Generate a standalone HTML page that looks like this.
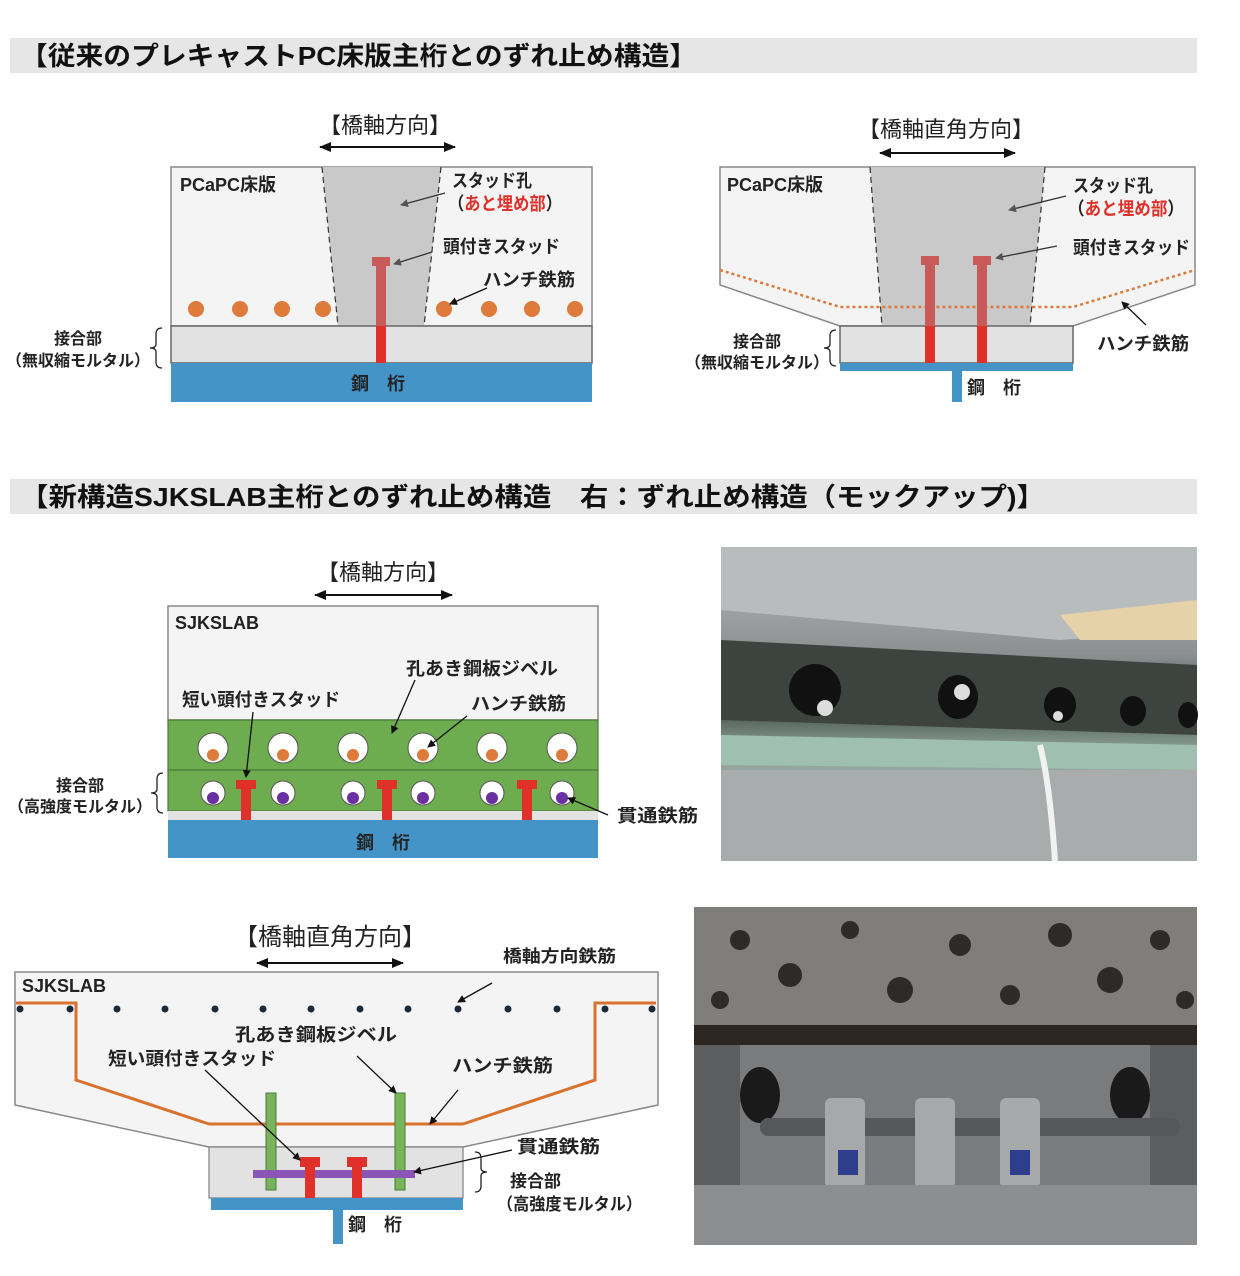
<!DOCTYPE html>
<html><head><meta charset="utf-8"><style>
body{margin:0;background:#fff;}
svg{display:block;font-family:"Liberation Sans","Noto Sans CJK JP",sans-serif;}
.b{font-weight:bold;fill:#222;font-size:18px}
</style></head><body>
<svg width="1240" height="1276" viewBox="0 0 1240 1276" xmlns="http://www.w3.org/2000/svg">
<defs>
<marker id="ah" markerWidth="8" markerHeight="8" refX="7" refY="4" orient="auto" markerUnits="userSpaceOnUse"><path d="M0,0 L8,4 L0,8z" fill="#111"/></marker>
<marker id="ag" markerWidth="8" markerHeight="8" refX="7" refY="4" orient="auto" markerUnits="userSpaceOnUse"><path d="M0,0 L8,4 L0,8z" fill="#555"/></marker>
<marker id="dA" markerWidth="12" markerHeight="10" refX="11" refY="5" orient="auto-start-reverse" markerUnits="userSpaceOnUse"><path d="M0,0 L12,5 L0,10z" fill="#111"/></marker>
<linearGradient id="p1" x1="0" y1="0" x2="0" y2="1"><stop offset="0" stop-color="#b8bcbd"/><stop offset="0.35" stop-color="#8a8e8f"/><stop offset="0.5" stop-color="#3c4a44"/><stop offset="0.65" stop-color="#8fa39a"/><stop offset="1" stop-color="#b4b6b5"/></linearGradient>
<linearGradient id="p2" x1="0" y1="0" x2="0" y2="1"><stop offset="0" stop-color="#7d7f80"/><stop offset="0.3" stop-color="#6e7072"/><stop offset="0.35" stop-color="#2a2522"/><stop offset="0.6" stop-color="#5a5a5c"/><stop offset="1" stop-color="#9c9ea0"/></linearGradient>
</defs>

<!-- headers -->
<rect x="10" y="38" width="1187" height="35" fill="#e6e6e6"/>
<text x="20" y="65" font-size="26" font-weight="bold" fill="#111" textLength="677" lengthAdjust="spacingAndGlyphs">【従来のプレキャストPC床版主桁とのずれ止め構造】</text>
<rect x="10" y="479" width="1187" height="35" fill="#e6e6e6"/>
<text x="20" y="506" font-size="26" font-weight="bold" fill="#111" textLength="1025" lengthAdjust="spacingAndGlyphs">【新構造SJKSLAB主桁とのずれ止め構造　右：ずれ止め構造（モックアップ)】</text>

<!-- top-left -->
<text x="385" y="133" font-size="22" text-anchor="middle" fill="#222">【橋軸方向】</text>
<line x1="320" y1="147" x2="455" y2="147" stroke="#111" stroke-width="2" marker-start="url(#dA)" marker-end="url(#dA)"/>
<rect x="171" y="167" width="421" height="159" fill="#f4f4f4" stroke="#888" stroke-width="1.5"/>
<polygon points="322,167 441,167 424,326 338,326" fill="#c9c9c9"/>
<line x1="322" y1="167" x2="338" y2="326" stroke="#333" stroke-dasharray="6,4" stroke-width="1.2"/>
<line x1="441" y1="167" x2="424" y2="326" stroke="#333" stroke-dasharray="6,4" stroke-width="1.2"/>
<rect x="171" y="326" width="421" height="37" fill="#e2e2e2" stroke="#666" stroke-width="1.5"/>
<rect x="171" y="363" width="421" height="39" fill="#4594c8"/>
<rect x="372" y="257" width="18" height="9" fill="#c85a5a"/>
<rect x="376" y="266" width="10" height="60" fill="#c85a5a"/>
<rect x="376" y="326" width="10" height="37" fill="#e0302a"/>
<g fill="#de7a3a"><circle cx="196" cy="309" r="8"/><circle cx="240" cy="309" r="8"/><circle cx="282" cy="309" r="8"/><circle cx="323" cy="309" r="8"/><circle cx="444" cy="309" r="8"/><circle cx="489" cy="309" r="8"/><circle cx="532" cy="309" r="8"/><circle cx="575" cy="309" r="8"/></g>
<text x="180" y="191" class="b">PCaPC床版</text>
<text x="452" y="187" class="b" textLength="80" lengthAdjust="spacingAndGlyphs">スタッド孔</text>
<text x="448" y="210" class="b" textLength="114" lengthAdjust="spacingAndGlyphs">（<tspan fill="#e0302a">あと埋め部</tspan>）</text>
<text x="443" y="253" class="b" textLength="117" lengthAdjust="spacingAndGlyphs">頭付きスタッド</text>
<text x="483" y="286" class="b" textLength="92" lengthAdjust="spacingAndGlyphs">ハンチ鉄筋</text>
<line x1="445" y1="193" x2="401" y2="205" stroke="#333" stroke-width="1.3" marker-end="url(#ag)"/>
<line x1="432" y1="252" x2="394" y2="264" stroke="#333" stroke-width="1.3" marker-end="url(#ag)"/>
<line x1="487" y1="288" x2="450" y2="304" stroke="#111" stroke-width="1.3" marker-end="url(#ah)"/>
<text x="78" y="344" font-size="16" font-weight="bold" text-anchor="middle" fill="#222">接合部</text>
<text x="78" y="366" font-size="16" font-weight="bold" text-anchor="middle" fill="#222">（無収縮モルタル）</text>
<path d="M162,328 q-6,0 -6,6 v10 q0,4 -6,4 q6,0 6,4 v10 q0,6 6,6" fill="none" stroke="#222" stroke-width="1.3"/>
<text x="378" y="390" class="b" text-anchor="middle">鋼　桁</text>

<!-- top-right -->
<text x="946" y="137" font-size="22" text-anchor="middle" fill="#222">【橋軸直角方向】</text>
<line x1="880" y1="153" x2="1015" y2="153" stroke="#111" stroke-width="2" marker-start="url(#dA)" marker-end="url(#dA)"/>
<polygon points="720,167 1195,167 1195,285 1073,326 840,326 720,285" fill="#f4f4f4" stroke="#888" stroke-width="1.5"/>
<polygon points="870,167 1045,167 1030,326 882,326" fill="#c9c9c9"/>
<line x1="870" y1="167" x2="882" y2="326" stroke="#333" stroke-dasharray="6,4" stroke-width="1.2"/>
<line x1="1045" y1="167" x2="1030" y2="326" stroke="#333" stroke-dasharray="6,4" stroke-width="1.2"/>
<polyline points="720,270 840,307 1073,307 1195,270" fill="none" stroke="#de7a3a" stroke-width="2.5" stroke-dasharray="3,3"/>
<rect x="840" y="326" width="233" height="37" fill="#e2e2e2" stroke="#666" stroke-width="1.5"/>
<rect x="840" y="363" width="233" height="8" fill="#4594c8"/>
<rect x="952" y="371" width="10" height="31" fill="#4594c8"/>
<rect x="921" y="256" width="18" height="9" fill="#c85a5a"/><rect x="925" y="265" width="10" height="61" fill="#c85a5a"/><rect x="925" y="326" width="10" height="37" fill="#e0302a"/>
<rect x="973" y="256" width="18" height="9" fill="#c85a5a"/><rect x="977" y="265" width="10" height="61" fill="#c85a5a"/><rect x="977" y="326" width="10" height="37" fill="#e0302a"/>
<text x="727" y="191" class="b">PCaPC床版</text>
<text x="1073" y="192" class="b" textLength="80" lengthAdjust="spacingAndGlyphs">スタッド孔</text>
<text x="1068" y="215" class="b" textLength="116" lengthAdjust="spacingAndGlyphs">（<tspan fill="#e0302a">あと埋め部</tspan>）</text>
<text x="1073" y="254" class="b" textLength="117" lengthAdjust="spacingAndGlyphs">頭付きスタッド</text>
<text x="1097" y="350" class="b" textLength="92" lengthAdjust="spacingAndGlyphs">ハンチ鉄筋</text>
<line x1="1066" y1="196" x2="1009" y2="210" stroke="#333" stroke-width="1.3" marker-end="url(#ag)"/>
<line x1="1057" y1="246" x2="996" y2="258" stroke="#333" stroke-width="1.3" marker-end="url(#ag)"/>
<line x1="1146" y1="325" x2="1122" y2="302" stroke="#111" stroke-width="1.3" marker-end="url(#ah)"/>
<text x="757" y="347" font-size="16" font-weight="bold" text-anchor="middle" fill="#222">接合部</text>
<text x="757" y="368" font-size="16" font-weight="bold" text-anchor="middle" fill="#222">（無収縮モルタル）</text>
<path d="M836,330 q-6,0 -6,6 v8 q0,4 -6,4 q6,0 6,4 v8 q0,6 6,6" fill="none" stroke="#222" stroke-width="1.3"/>
<text x="994" y="394" class="b" text-anchor="middle">鋼　桁</text>

<!-- middle -->
<text x="383" y="580" font-size="22" text-anchor="middle" fill="#222">【橋軸方向】</text>
<line x1="315" y1="595" x2="452" y2="595" stroke="#111" stroke-width="2" marker-start="url(#dA)" marker-end="url(#dA)"/>
<rect x="168" y="606" width="430" height="114" fill="#f4f4f4" stroke="#888" stroke-width="1.5"/>
<rect x="168" y="720" width="430" height="50" fill="#6eac50" stroke="#4a7a38" stroke-width="1.2"/>
<rect x="168" y="770" width="430" height="41" fill="#6eac50" stroke="#4a7a38" stroke-width="1.2"/>
<rect x="168" y="811" width="430" height="9" fill="#e2e2e2"/>
<rect x="168" y="820" width="430" height="38" fill="#4594c8"/>
<g stroke="#555" stroke-width="1" fill="#fff">
<circle cx="213" cy="748" r="15"/><circle cx="283" cy="748" r="15"/><circle cx="353" cy="748" r="15"/><circle cx="423" cy="748" r="15"/><circle cx="492" cy="748" r="15"/><circle cx="562" cy="748" r="15"/>
<circle cx="213" cy="793" r="12"/><circle cx="283" cy="793" r="12"/><circle cx="353" cy="793" r="12"/><circle cx="423" cy="793" r="12"/><circle cx="492" cy="793" r="12"/><circle cx="562" cy="793" r="12"/></g>
<g fill="#de7a3a"><circle cx="213" cy="755" r="6"/><circle cx="283" cy="755" r="6"/><circle cx="353" cy="755" r="6"/><circle cx="423" cy="755" r="6"/><circle cx="492" cy="755" r="6"/><circle cx="562" cy="755" r="6"/></g>
<g fill="#6a2fa0"><circle cx="213" cy="798" r="6"/><circle cx="283" cy="798" r="6"/><circle cx="353" cy="798" r="6"/><circle cx="423" cy="798" r="6"/><circle cx="492" cy="798" r="6"/><circle cx="562" cy="798" r="6"/></g>
<g fill="#e0302a"><rect x="236" y="780" width="20" height="9"/><rect x="241" y="789" width="10" height="31"/><rect x="377" y="780" width="20" height="9"/><rect x="382" y="789" width="10" height="31"/><rect x="517" y="780" width="20" height="9"/><rect x="522" y="789" width="10" height="31"/></g>
<text x="175" y="629" class="b">SJKSLAB</text>
<text x="406" y="675" class="b" font-size="19" textLength="152" lengthAdjust="spacingAndGlyphs">孔あき鋼板ジベル</text>
<text x="182" y="706" class="b" font-size="19" textLength="158" lengthAdjust="spacingAndGlyphs">短い頭付きスタッド</text>
<text x="471" y="710" class="b" font-size="19" textLength="95" lengthAdjust="spacingAndGlyphs">ハンチ鉄筋</text>
<text x="617" y="822" class="b" font-size="19" textLength="81" lengthAdjust="spacingAndGlyphs">貫通鉄筋</text>
<line x1="415" y1="680" x2="392" y2="733" stroke="#111" stroke-width="1.3" marker-end="url(#ah)"/>
<line x1="253" y1="712" x2="246" y2="777" stroke="#111" stroke-width="1.3" marker-end="url(#ah)"/>
<line x1="467" y1="716" x2="428" y2="747" stroke="#111" stroke-width="1.3" marker-end="url(#ah)"/>
<line x1="608" y1="815" x2="568" y2="798" stroke="#111" stroke-width="1.3" marker-end="url(#ah)"/>
<text x="80" y="791" font-size="16" font-weight="bold" text-anchor="middle" fill="#222">接合部</text>
<text x="80" y="812" font-size="16" font-weight="bold" text-anchor="middle" fill="#222">（高強度モルタル）</text>
<path d="M163,773 q-6,0 -6,6 v10 q0,4 -6,4 q6,0 6,4 v10 q0,6 6,6" fill="none" stroke="#222" stroke-width="1.3"/>
<text x="383" y="849" class="b" text-anchor="middle">鋼　桁</text>

<!-- photo 1 -->
<rect x="721" y="547" width="476" height="314" fill="url(#p1)"/>
<polygon points="721,547 1197,547 1197,630 1060,640 721,610" fill="#b9bcbd"/>
<polygon points="721,640 1197,665 1197,735 721,720" fill="#3d4440"/>
<polygon points="1060,615 1197,600 1197,640 1080,640" fill="#e6d2a8"/>
<polygon points="721,735 1197,745 1197,770 721,765" fill="#9fbfb0"/>
<rect x="721" y="770" width="476" height="91" fill="#a9acac"/>
<g fill="#111"><ellipse cx="815" cy="690" rx="26" ry="26"/><ellipse cx="958" cy="697" rx="20" ry="22"/><ellipse cx="1060" cy="705" rx="16" ry="18"/><ellipse cx="1133" cy="711" rx="13" ry="15"/><ellipse cx="1188" cy="715" rx="10" ry="13"/></g>
<g fill="#ddd"><circle cx="825" cy="708" r="8"/><circle cx="962" cy="692" r="8"/><circle cx="1058" cy="716" r="5"/></g>
<path d="M1040,745 q10,40 15,116" stroke="#f2f2f2" stroke-width="6" fill="none"/>

<!-- photo 2 -->
<rect x="694" y="907" width="503" height="338" fill="url(#p2)"/>
<rect x="694" y="907" width="503" height="118" fill="#807e7a"/>
<g fill="#2d2b2a"><circle cx="740" cy="940" r="10"/><circle cx="790" cy="975" r="12"/><circle cx="850" cy="930" r="9"/><circle cx="900" cy="990" r="13"/><circle cx="960" cy="945" r="11"/><circle cx="1010" cy="995" r="10"/><circle cx="1060" cy="935" r="12"/><circle cx="1110" cy="980" r="13"/><circle cx="1160" cy="940" r="10"/><circle cx="720" cy="1000" r="9"/><circle cx="1185" cy="1000" r="9"/></g>
<rect x="694" y="1025" width="503" height="20" fill="#2c2622"/>
<rect x="694" y="1045" width="503" height="200" fill="#5c5d5f"/>
<rect x="740" y="1045" width="410" height="200" fill="#7a7b7d"/>
<g fill="#1a1a1a"><ellipse cx="760" cy="1095" rx="20" ry="28"/><ellipse cx="1130" cy="1095" rx="20" ry="28"/></g>
<rect x="760" y="1118" width="420" height="18" rx="8" fill="#55575a"/>
<g fill="#a7a8aa"><rect x="825" y="1098" width="40" height="90" rx="6"/><rect x="915" y="1098" width="40" height="90" rx="6"/><rect x="1000" y="1098" width="40" height="90" rx="6"/></g>
<g fill="#2d3f8c"><rect x="838" y="1150" width="20" height="25"/><rect x="1010" y="1150" width="20" height="25"/></g>
<rect x="694" y="1185" width="503" height="60" fill="#8d8e90"/>

<!-- bottom diagram -->
<text x="330" y="945" font-size="24" text-anchor="middle" fill="#222">【橋軸直角方向】</text>
<line x1="257" y1="963" x2="403" y2="963" stroke="#111" stroke-width="2" marker-start="url(#dA)" marker-end="url(#dA)"/>
<polygon points="15,972 658,972 658,1105 463,1147 209,1147 15,1105" fill="#f4f4f4" stroke="#888" stroke-width="1.5"/>
<polyline points="16,1003 76,1003 76,1080 209,1124 463,1124 595,1080 595,1003 656,1003" fill="none" stroke="#d9722f" stroke-width="3"/>
<g fill="#1a2a3a"><circle cx="20" cy="1009" r="3.5"/><circle cx="70" cy="1009" r="3.5"/><circle cx="117" cy="1009" r="3.5"/><circle cx="165" cy="1009" r="3.5"/><circle cx="215" cy="1009" r="3.5"/><circle cx="263" cy="1009" r="3.5"/><circle cx="311" cy="1009" r="3.5"/><circle cx="360" cy="1009" r="3.5"/><circle cx="408" cy="1009" r="3.5"/><circle cx="458" cy="1009" r="3.5"/><circle cx="508" cy="1009" r="3.5"/><circle cx="557" cy="1009" r="3.5"/><circle cx="605" cy="1009" r="3.5"/><circle cx="652" cy="1009" r="3.5"/></g>
<rect x="209" y="1147" width="254" height="51" fill="#e2e2e2" stroke="#888" stroke-width="1.3"/>
<rect x="211" y="1198" width="252" height="12" fill="#4594c8"/>
<rect x="333" y="1210" width="10" height="34" fill="#4594c8"/>
<g fill="#78b45a" stroke="#4a7a38" stroke-width="1"><rect x="266" y="1093" width="10" height="97"/><rect x="395" y="1093" width="10" height="97"/></g>
<rect x="253" y="1170" width="162" height="8" fill="#8a55b5"/>
<g fill="#e0302a"><rect x="300" y="1157" width="20" height="10"/><rect x="305" y="1167" width="10" height="31"/><rect x="347" y="1157" width="20" height="10"/><rect x="352" y="1167" width="10" height="31"/></g>
<text x="22" y="992" class="b">SJKSLAB</text>
<text x="503" y="962" font-size="17" font-weight="bold" fill="#222" textLength="113" lengthAdjust="spacingAndGlyphs">橋軸方向鉄筋</text>
<text x="235" y="1041" class="b" font-size="20" textLength="162" lengthAdjust="spacingAndGlyphs">孔あき鋼板ジベル</text>
<text x="108" y="1065" class="b" font-size="20" textLength="168" lengthAdjust="spacingAndGlyphs">短い頭付きスタッド</text>
<text x="452" y="1072" class="b" font-size="20" textLength="101" lengthAdjust="spacingAndGlyphs">ハンチ鉄筋</text>
<text x="517" y="1153" class="b" font-size="20" textLength="83" lengthAdjust="spacingAndGlyphs">貫通鉄筋</text>
<text x="510" y="1187" font-size="17" font-weight="bold" fill="#222">接合部</text>
<text x="497" y="1210" font-size="17" font-weight="bold" fill="#222" textLength="145" lengthAdjust="spacingAndGlyphs">（高強度モルタル）</text>
<text x="348" y="1231" class="b">鋼　桁</text>
<line x1="492" y1="983" x2="458" y2="1002" stroke="#111" stroke-width="1.3" marker-end="url(#ah)"/>
<line x1="357" y1="1056" x2="396" y2="1093" stroke="#111" stroke-width="1.3" marker-end="url(#ah)"/>
<line x1="205" y1="1070" x2="300" y2="1160" stroke="#111" stroke-width="1.3" marker-end="url(#ah)"/>
<line x1="458" y1="1090" x2="430" y2="1124" stroke="#111" stroke-width="1.3" marker-end="url(#ah)"/>
<line x1="512" y1="1150" x2="414" y2="1172" stroke="#111" stroke-width="1.3" marker-end="url(#ah)"/>
<path d="M475,1152 q6,0 6,6 v10 q0,4 6,4 q-6,0 -6,4 v10 q0,6 -6,6" fill="none" stroke="#222" stroke-width="1.3"/>
</svg>
</body></html>
